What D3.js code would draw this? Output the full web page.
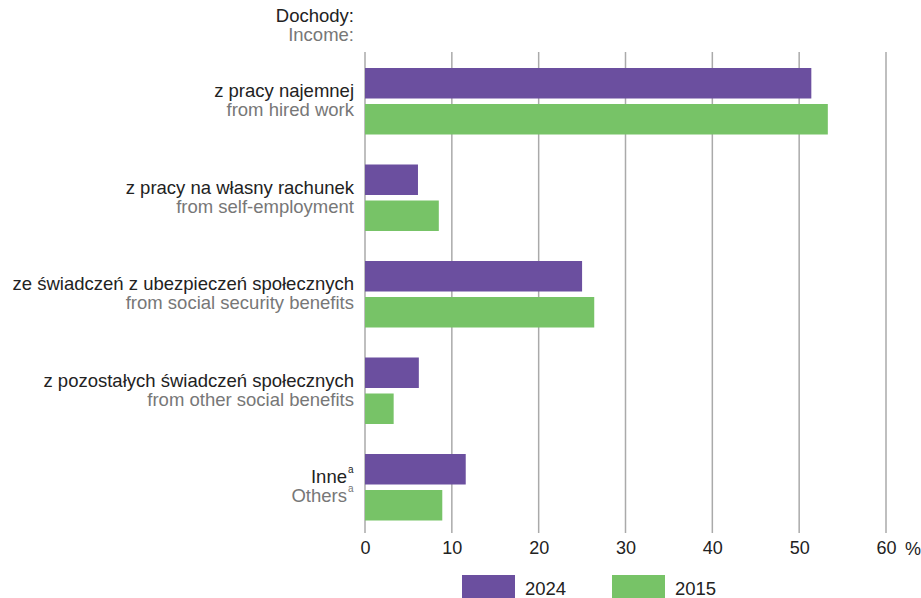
<!DOCTYPE html>
<html><head><meta charset="utf-8">
<script src="https://cdn.jsdelivr.net/npm/d3@7"></script>
<style>body{margin:0;background:#fff}svg{display:block;font-family:"Liberation Sans",Arial,sans-serif}</style>
</head><body><svg id="c" width="921" height="598"></svg>
<script>
const categoriesPl = ["z pracy najemnej","z pracy na własny rachunek","ze świadczeń z ubezpieczeń społecznych","z pozostałych świadczeń społecznych","Inne"];
const categoriesEn = ["from hired work","from self-employment","from social security benefits","from other social benefits","Others"];
const footnote = ["","","","","a"];
const values2024 = [51.4, 6.1, 25.0, 6.2, 11.6];
const values2015 = [53.3, 8.5, 26.4, 3.3, 8.9];
const seriesNames = ["2024","2015"];
const seriesColors = ["#6b4f9f","#77c367"];
const ticks = [0,10,20,30,40,50,60];

const FS = 18.5;
const svg = d3.select("#c");
const x = d3.scaleLinear().domain([0,60]).range([365,886]);
const yg = d3.scaleLinear().domain([0,4]).range([68,454]);
const bh = 30.5, gap = 5.5;

// grid
svg.append("g").selectAll("line").data(ticks).join("line")
  .attr("x1",d=>x(d)).attr("x2",d=>x(d)).attr("y1",52).attr("y2",533)
  .attr("stroke","#aaaaaa").attr("stroke-width",1.5);

// bars
const series = [values2024, values2015];
series.forEach((vals,si)=>{
  svg.append("g").selectAll("rect").data(vals).join("rect")
    .attr("x",x(0)).attr("y",(d,i)=>yg(i)+si*(bh+gap))
    .attr("width",d=>x(d)-x(0)).attr("height",bh)
    .attr("fill",seriesColors[si]);
});

// axis labels
const axis = d3.axisBottom(x).tickValues(ticks).tickSize(0).tickPadding(0);
const ga = svg.append("g").attr("transform","translate(0,541)").call(axis);
ga.select(".domain").remove();
ga.selectAll("text").attr("font-size",18).attr("fill","#222").attr("font-family","Liberation Sans, Arial, sans-serif").attr("dy","0.71em");
svg.append("text").attr("x",905).attr("y",555).attr("font-size",18).attr("fill","#222").text("%");

// header
svg.append("text").attr("x",354).attr("y",22).attr("text-anchor","end").attr("font-size",FS).attr("fill","#222").text("Dochody:");
svg.append("text").attr("x",354).attr("y",41).attr("text-anchor","end").attr("font-size",FS).attr("fill","#777").text("Income:");

// category labels
categoriesPl.forEach((c,i)=>{
  const base = yg(i);
  const sup = footnote[i];
  const offs = sup ? 7 : 0;
  svg.append("text").attr("x",354-offs).attr("y",base+29).attr("text-anchor","end").attr("font-size",FS).attr("fill","#222").text(c);
  svg.append("text").attr("x",354-offs).attr("y",base+48).attr("text-anchor","end").attr("font-size",FS).attr("fill","#777").text(categoriesEn[i]);
  if(sup){
    svg.append("text").attr("x",348).attr("y",base+19).attr("font-size",10).attr("fill","#222").text(sup);
    svg.append("text").attr("x",348).attr("y",base+38).attr("font-size",10).attr("fill","#777").text(sup);
  }
});

// legend
const lx = [462,612];
seriesNames.forEach((n,i)=>{
  svg.append("rect").attr("x",lx[i]).attr("y",575).attr("width",53).attr("height",23).attr("fill",seriesColors[i]);
  svg.append("text").attr("x",lx[i]+63).attr("y",595).attr("font-size",FS).attr("fill","#222").text(n);
});
</script></body></html>
